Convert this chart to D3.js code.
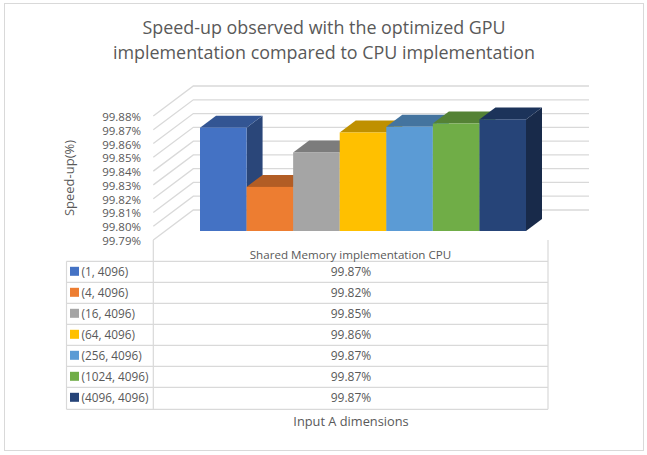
<!DOCTYPE html>
<html>
<head>
<meta charset="utf-8">
<script src="https://cdnjs.cloudflare.com/ajax/libs/d3/7.8.5/d3.min.js"></script>
<style>
html, body { margin: 0; padding: 0; background: #fff; }
svg { display: block; }
text { font-family: "Open Sans", "Noto Sans", sans-serif; fill: #595959; }
</style>
</head>
<body>
<div class="container"></div>
<script>
var categories = ["(1, 4096)", "(4, 4096)", "(16, 4096)", "(64, 4096)", "(256, 4096)", "(1024, 4096)", "(4096, 4096)"];
var values = [99.865, 99.822, 99.847, 99.8615, 99.8656, 99.868, 99.871];
var valueLabels = ["99.87%", "99.82%", "99.85%", "99.86%", "99.87%", "99.87%", "99.87%"];
var frontColors = ["#4472c4", "#ed7d31", "#a5a5a5", "#ffc000", "#5b9bd5", "#70ad47", "#264478"];
var topColors = ["#335593", "#b25d25", "#7c7c7c", "#bf9000", "#44749f", "#548235", "#1c335a"];
var sideColors = ["#2a4679", "#ed7d31", "#a5a5a5", "#ffc000", "#5b9bd5", "#70ad47", "#182a4a"];
var yTicks = [99.79, 99.80, 99.81, 99.82, 99.83, 99.84, 99.85, 99.86, 99.87, 99.88];
var titleLines = ["Speed-up observed with the optimized GPU", "implementation compared to CPU implementation"];

var w = 647, h = 455;
var svg = d3.select(".container").insert("svg").attr("width", w).attr("height", h);

// chart frame
svg.append("rect").attr("x", 4.5).attr("y", 3.5).attr("width", 639).attr("height", 447)
	.style("fill", "#fff").style("stroke", "#d9d9d9");

// value scale on the front edge of the floor, depth moves things up and right
var y = d3.scaleLinear().domain([99.79, 99.88]).range([240, 116]);
var x = d3.scaleBand().domain(categories).range([200, 526]);
var wallDx = 40, wallDy = -30;      // side wall depth
var barDepth0 = 0.3, barDepth1 = 0.7; // bars sit inside the box
var wallLeft = 153.3, wallRight = 589;

function px(xv, depth) { return xv + depth * wallDx; }
function py(v, depth) { return y(v) + depth * wallDy; }

// back wall and side wall gridlines
yTicks.forEach(function(t) {
	svg.append("path")
		.attr("d", d3.line()([[wallLeft, py(t, 0)], [px(wallLeft, 1), py(t, 1)], [wallRight, py(t, 1)]]))
		.style("fill", "none").style("stroke", "#d9d9d9").style("stroke-width", 1.3);
});

// bars, left to right so the next front covers the last side
var d0 = barDepth0, d1 = barDepth1;
categories.forEach(function(c, i) {
	var x0 = x(c) - d0 * wallDx, x1 = x0 + x.bandwidth();
	var v = values[i], base = yTicks[0];
	var poly = function(pts) { return "M" + pts.join("L") + "Z"; };
	// right side
	svg.append("path")
		.attr("d", poly([[px(x1, d0), py(v, d0)], [px(x1, d1), py(v, d1)], [px(x1, d1), py(base, d1)], [px(x1, d0), py(base, d0)]]))
		.style("fill", sideColors[i]);
	// top
	svg.append("path")
		.attr("d", poly([[px(x0, d0), py(v, d0)], [px(x0, d1), py(v, d1)], [px(x1, d1), py(v, d1)], [px(x1, d0), py(v, d0)]]))
		.style("fill", topColors[i]);
	// front
	svg.append("rect")
		.attr("x", px(x0, d0)).attr("y", py(v, d0))
		.attr("width", x.bandwidth()).attr("height", py(base, d0) - py(v, d0))
		.style("fill", frontColors[i]);
});

// y axis labels
svg.selectAll(".ytick").data(yTicks).enter().append("text")
	.attr("class", "ytick")
	.attr("x", 141).attr("y", function(d) { return y(d) + 5; })
	.attr("text-anchor", "end").style("font-size", "11.5px")
	.text(function(d) { return d.toFixed(2) + "%"; });

svg.append("text")
	.attr("transform", "translate(73.5,178) rotate(-90)")
	.attr("text-anchor", "middle").style("font-size", "13px")
	.text("Speed-up(%)");

// data table
var tableTop = 261.3, rowH = 21, tableLeft = 66.5, tableMid = 153.3, tableRight = 548;
var gridColor = "#d9d9d9";
function gridLine(x1, y1, x2, y2) {
	svg.append("line").attr("x1", x1).attr("y1", y1).attr("x2", x2).attr("y2", y2)
		.style("stroke", gridColor).style("stroke-width", 1.2);
}
gridLine(tableMid, 240, tableMid, tableTop + rowH * 7.05);
gridLine(tableRight, 240, tableRight, tableTop + rowH * 7.05);
gridLine(tableLeft, tableTop, tableLeft, tableTop + rowH * 7.05);
d3.range(8).forEach(function(i) {
	var ly = tableTop + rowH * i + (i == 7 ? 1 : 0);
	gridLine(tableLeft, ly, tableRight, ly);
});

svg.append("text").attr("x", 350.5).attr("y", 258.5).attr("text-anchor", "middle")
	.style("font-size", "11.6px").text("Shared Memory implementation CPU");

categories.forEach(function(c, i) {
	var top = tableTop + rowH * i;
	svg.append("rect").attr("x", 70).attr("y", top + 5.5).attr("width", 9).attr("height", 9)
		.style("fill", frontColors[i]);
	svg.append("text").attr("x", 81.5).attr("y", top + 14.5)
		.style("font-size", "11.8px").text(c);
	svg.append("text").attr("x", 351).attr("y", top + 15)
		.attr("text-anchor", "middle").style("font-size", "12px").text(valueLabels[i]);
});

svg.append("text").attr("x", 351).attr("y", 426).attr("text-anchor", "middle")
	.style("font-size", "12.8px").text("Input A dimensions");

// title
titleLines.forEach(function(t, i) {
	svg.append("text").attr("x", 324).attr("y", 34 + i * 25).attr("text-anchor", "middle")
		.style("font-size", "17.9px").text(t);
});
</script>
</body>
</html>
